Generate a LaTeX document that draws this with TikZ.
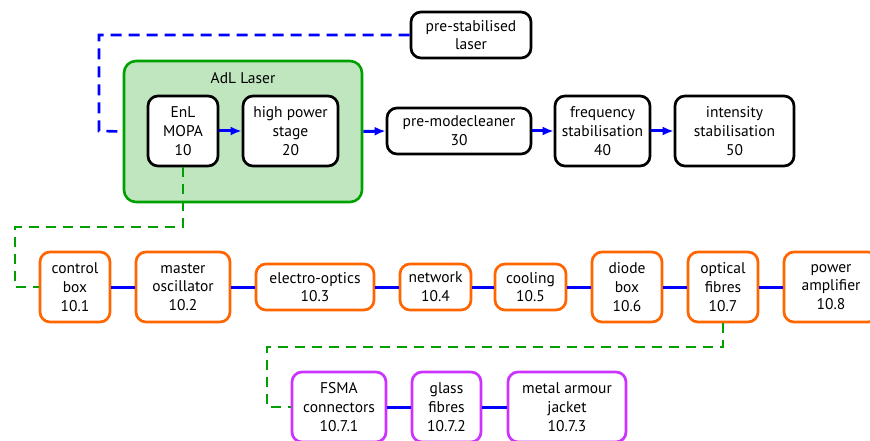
\documentclass[tikz,border=0pt]{standalone}
\usepackage{fontspec}
\setmainfont{PT Sans}
\usetikzlibrary{arrows.meta}

\definecolor{adlgreen}{RGB}{0,160,0}
\definecolor{adlfill}{RGB}{192,230,192}
\definecolor{suborange}{RGB}{255,102,0}
\definecolor{submagenta}{RGB}{204,51,255}

\begin{document}
\begin{tikzpicture}[x=1pt, y=-1pt,
  every node/.style={font=\fontsize{15.5}{18.7}\selectfont, align=center},
  unit/.style={draw=black, line width=2.7pt, rounded corners=10pt, fill=white, inner sep=0pt},
  subunit/.style={unit, draw=suborange},
  subsubunit/.style={unit, draw=submagenta},
  beam/.style={blue, line width=3pt, -{Latex[length=11pt, width=9pt]}},
  link/.style={blue, line width=3pt},
  bluedash/.style={blue, line width=2.6pt, dash pattern=on 11pt off 7pt},
  greendash/.style={adlgreen, line width=2.6pt, dash pattern=on 10pt off 7pt}]

\useasboundingbox (0,0) rectangle (870,441);

% AdL Laser housing
\node[draw=adlgreen, fill=adlfill, line width=2.6pt, rounded corners=12pt,
  minimum width=238pt, minimum height=141pt] (adl) at (243,131.5) {};
\path 
(243,78) node (adllabel) {AdL Laser};

% laser chain
\node[unit, minimum width=70pt, minimum height=70pt] (mopa) at (183,131) {EnL\\MOPA\\10};
\node[unit, minimum width=95pt, minimum height=70pt] (hps) at (290.5,131) {high power\\stage\\20};
\node[unit, minimum width=144pt, minimum height=46pt] (pmc) at (459,131) {pre-modecleaner\\30};
\node[unit, minimum width=95pt, minimum height=70pt] (fss) at (602.5,131) {frequency\\stabilisation\\40};
\node[unit, minimum width=119pt, minimum height=70pt] (iss) at (734.5,131) {intensity\\stabilisation\\50};
\node[unit, minimum width=120pt, minimum height=46pt] (psl) at (471,35) {pre-stabilised\\laser};

\draw[beam] (mopa) -- (hps);
\draw[beam] (adl.east) -- (pmc.west);
\draw[beam] (pmc) -- (fss);
\draw[beam] (fss) -- (iss);

% pre-stabilised laser to housing
\coordinate (pslbend) at (99,131);
\draw[bluedash] (psl.west) -| (pslbend) -- (adl.west);

% EnL MOPA sub-units
\node[subunit, minimum width=70pt, minimum height=70pt] (ctrl) at (75,287) {control\\box\\10.1};
\node[subunit, minimum width=94pt, minimum height=70pt] (mo) at (183,287) {master\\oscillator\\10.2};
\node[subunit, minimum width=118pt, minimum height=46pt] (eo) at (315,287) {electro-optics\\10.3};
\node[subunit, minimum width=71pt, minimum height=46pt] (net) at (435.5,287) {network\\10.4};
\node[subunit, minimum width=71pt, minimum height=46pt] (cool) at (530.5,287) {cooling\\10.5};
\node[subunit, minimum width=70pt, minimum height=70pt] (diode) at (627,287) {diode\\box\\10.6};
\node[subunit, minimum width=70pt, minimum height=70pt] (fibres) at (723,287) {optical\\fibres\\10.7};
\node[subunit, minimum width=94pt, minimum height=70pt] (pa) at (831,287) {power\\amplifier\\10.8};

\draw[link] (ctrl) -- (mo);
\draw[link] (mo) -- (eo);
\draw[link] (eo) -- (net);
\draw[link] (net) -- (cool);
\draw[link] (cool) -- (diode);
\draw[link] (diode) -- (fibres);
\draw[link] (fibres) -- (pa);

\coordinate (mopabend) at (15,227);
\draw[greendash] (mopa.south) |- (mopabend) |- (ctrl.west);

% optical fibres sub-units
\node[subsubunit, minimum width=94pt, minimum height=70pt] (fsma) at (339,407) {FSMA\\connectors\\10.7.1};
\node[subsubunit, minimum width=69pt, minimum height=70pt] (glass) at (446.5,407) {glass\\fibres\\10.7.2};
\node[subsubunit, minimum width=118pt, minimum height=70pt] (jacket) at (567,407) {metal armour\\jacket\\10.7.3};

\draw[link] (fsma) -- (glass);
\draw[link] (glass) -- (jacket);

\coordinate (fibresbend) at (267,347);
\draw[greendash] (fibres.south) |- (fibresbend) |- (fsma.west);

\end{tikzpicture}
\end{document}
